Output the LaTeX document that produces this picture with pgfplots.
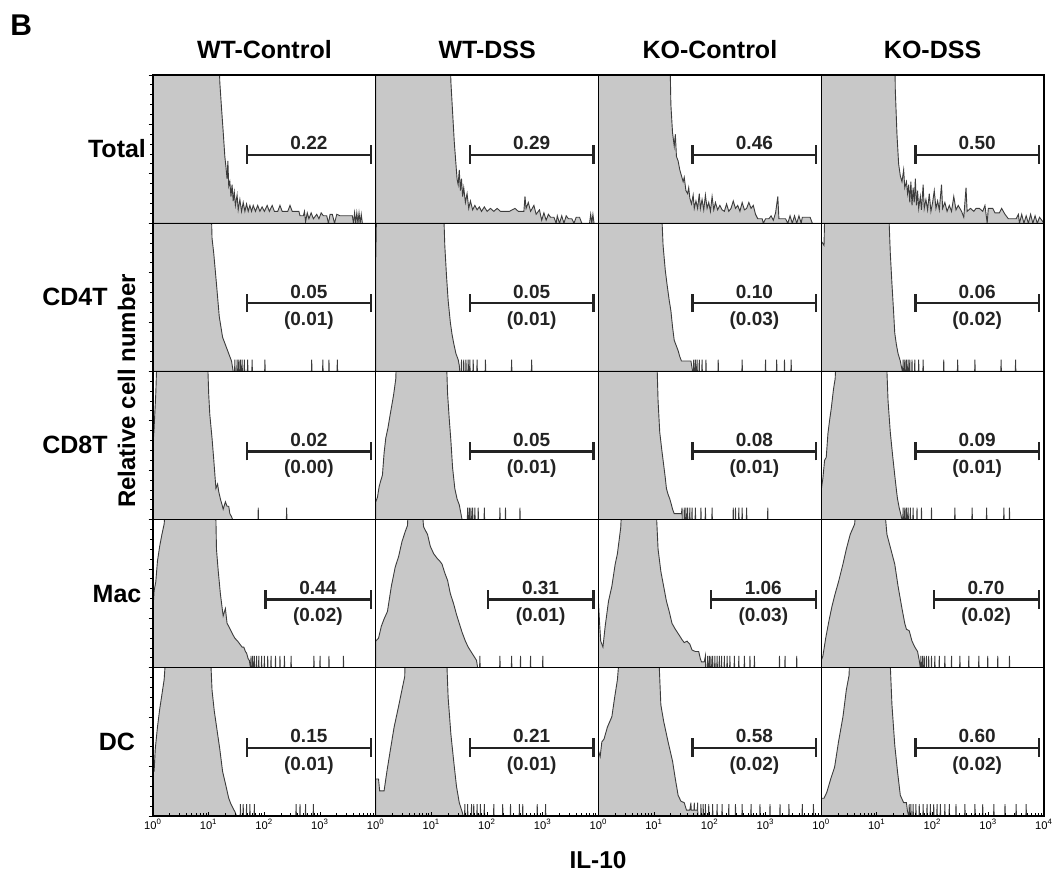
\documentclass[border=0pt]{standalone}
\usepackage{pgfplots}
\pgfplotsset{compat=1.18}
\usepgfplotslibrary{groupplots}
\usetikzlibrary{calc}
\usepackage{fontspec}
\setmainfont{Liberation Sans}
\definecolor{histfill}{RGB}{200,200,200}
\definecolor{histline}{RGB}{60,60,60}
\definecolor{gatecol}{RGB}{35,35,35}
\newcommand{\numfont}{\fontsize{9.5}{11}\selectfont\bfseries}
\newcommand{\gate}[5]{%
  \draw[gatecol, line width=1.2pt] (axis cs:#1,46) -- (axis cs:#2,46);
  \draw[gatecol, line width=1.2pt] (axis cs:#1,40) -- (axis cs:#1,52.5);
  \draw[gatecol, line width=1.2pt] (axis cs:#2,40) -- (axis cs:#2,52.5);
  \node[gatecol, font=\numfont, anchor=base, inner sep=0pt] at (axis cs:#3,49.5) {#4};
  \node[gatecol, font=\numfont, anchor=base, inner sep=0pt] at (axis cs:#3,31) {#5};
}
\pgfplotsset{
  hist/.style={fill=histfill, draw=histline, line width=0.45pt},
  leftcol/.style={ytick={0,33.333,66.667,100},
     minor ytick={6.667,13.333,20,26.667,40,46.667,53.333,60,73.333,80,86.667,93.333},
     yticklabels={}, ytick align=outside, ytick pos=left},
  botrow/.style={xtick={0,1,2,3,4},
     minor xtick={0.301,0.477,0.602,0.699,0.778,0.845,0.903,0.954,
                  1.301,1.477,1.602,1.699,1.778,1.845,1.903,1.954,
                  2.301,2.477,2.602,2.699,2.778,2.845,2.903,2.954,
                  3.301,3.477,3.602,3.699,3.778,3.845,3.903,3.954},
     xtick align=inside, xtick pos=bottom,
     xticklabels={10\textsuperscript{0},10\textsuperscript{1},10\textsuperscript{2},10\textsuperscript{3},},
     xticklabel style={font=\fontsize{5.6}{6}\selectfont, inner sep=0.5pt, yshift=-1pt}},
  lastlabels/.style={xticklabels={10\textsuperscript{0},10\textsuperscript{1},10\textsuperscript{2},10\textsuperscript{3},10\textsuperscript{4}}},
}
\begin{document}
\begin{tikzpicture}
\begin{groupplot}[
  group style={group size=4 by 5, horizontal sep=0pt, vertical sep=0pt},
  width=111.375pt, height=74.1pt, scale only axis,
  xmin=0, xmax=4, ymin=0, ymax=100,
  xtick=\empty, ytick=\empty,
  axis on top,
  axis line style={line width=0.6pt},
  every tick/.style={black, line width=0.45pt},
  major tick length=2.2pt, minor tick length=1.4pt,
]
% ---------------- Row 1: Total ----------------
\nextgroupplot[leftcol]
\addplot[hist] coordinates {(0,120)(1.18,120)(1.20,95)(1.23,78)(1.26,62)(1.29,45)(1.31,38)(1.33,30)(1.345,42)(1.36,25)(1.38,28)(1.40,18)(1.42,26)(1.44,15)(1.46,21)(1.48,12)(1.51,19)(1.53,9)(1.56,16)(1.59,8)(1.62,14)(1.65,8)(1.68,13)(1.71,8)(1.74,12)(1.77,8)(1.80,12)(1.84,8)(1.88,12)(1.92,8)(1.96,11)(2.00,8)(2.05,12)(2.09,8)(2.14,12)(2.18,8)(2.24,8)(2.28,12)(2.32,8)(2.42,8)(2.46,12)(2.50,8)(2.62,8)(2.64,5)(2.70,5)(2.72,8)(2.74,1)(2.77,7)(2.80,3)(2.84,7)(2.88,3)(2.94,6)(2.98,3)(3.02,7)(3.06,5)(3.12,5)(3.15,0)(3.18,6)(3.22,6)(3.26,0)(3.30,6)(3.36,5)(3.58,5)(3.60,0)(3.62,7)(3.64,0)(3.66,7)(3.68,0)(3.70,7)(3.72,0)(3.74,6)(3.76,0)(4,0)} \closedcycle;
\gate{1.69}{3.91}{2.80}{0.22}{}
\nextgroupplot
\addplot[hist] coordinates {(0,120)(1.33,120)(1.35,95)(1.38,75)(1.41,55)(1.44,40)(1.46,30)(1.48,26)(1.50,36)(1.52,22)(1.54,30)(1.56,18)(1.58,24)(1.61,14)(1.64,20)(1.67,10)(1.70,15)(1.74,9)(1.78,12)(1.82,9)(1.86,11)(1.90,8)(1.95,11)(2.00,8)(2.06,10)(2.12,8)(2.18,10)(2.24,8)(2.40,8)(2.50,10)(2.56,8)(2.66,8)(2.68,18)(2.70,10)(2.74,14)(2.78,8)(2.84,12)(2.88,6)(2.94,9)(2.98,2)(3.02,7)(3.06,2)(3.10,6)(3.14,4)(3.20,4)(3.24,0)(3.26,5)(3.30,0)(3.34,5)(3.38,0)(3.42,5)(3.46,3)(3.52,3)(3.56,0)(3.60,4)(3.66,4)(3.70,0)(3.84,0)(3.86,6)(3.88,0)(3.90,6)(3.92,0)(4,0)} \closedcycle;
\gate{1.69}{3.91}{2.80}{0.29}{}
\nextgroupplot
\addplot[hist] coordinates {(0,120)(1.28,120)(1.30,80)(1.33,61)(1.36,52)(1.38,60)(1.40,45)(1.43,42)(1.46,36)(1.49,32)(1.52,28)(1.54,31)(1.57,22)(1.60,20)(1.62,24)(1.64,17)(1.67,13)(1.70,19)(1.72,10)(1.75,15)(1.78,10)(1.81,20)(1.83,10)(1.86,16)(1.89,9)(1.92,19)(1.95,10)(1.98,14)(2.01,8)(2.04,18)(2.07,9)(2.10,14)(2.14,9)(2.18,12)(2.22,9)(2.26,8)(2.30,13)(2.34,8)(2.38,10)(2.42,15)(2.46,10)(2.50,12)(2.54,8)(2.58,14)(2.62,9)(2.66,10)(2.70,14)(2.74,10)(2.78,12)(2.82,6)(2.86,3)(2.94,3)(2.96,0)(3.00,3)(3.06,3)(3.10,5)(3.14,2)(3.18,7)(3.22,18)(3.24,3)(3.30,3)(3.36,3)(3.40,0)(3.44,5)(3.48,0)(3.52,5)(3.56,0)(3.60,5)(3.64,0)(3.66,4)(3.80,4)(3.84,0)(4,0)} \closedcycle;
\gate{1.69}{3.91}{2.80}{0.46}{}
\nextgroupplot
\addplot[hist] coordinates {(0,120)(1.32,120)(1.33,90)(1.36,60)(1.39,40)(1.42,32)(1.45,28)(1.48,36)(1.50,24)(1.53,28)(1.55,20)(1.57,26)(1.59,14)(1.61,28)(1.63,12)(1.65,24)(1.67,14)(1.69,30)(1.71,12)(1.73,22)(1.75,10)(1.78,18)(1.80,9)(1.83,26)(1.85,10)(1.88,16)(1.91,9)(1.94,20)(1.97,8)(2.00,14)(2.03,22)(2.06,10)(2.09,15)(2.12,9)(2.16,26)(2.18,10)(2.22,14)(2.26,8)(2.30,12)(2.34,8)(2.38,18)(2.42,9)(2.46,12)(2.52,8)(2.56,4)(2.60,24)(2.62,8)(2.68,10)(2.74,8)(2.78,10)(2.84,10)(2.90,8)(2.94,12)(2.98,0)(3.00,10)(3.08,10)(3.12,7)(3.20,7)(3.24,10)(3.30,6)(3.36,3)(3.42,3)(3.50,3)(3.54,6)(3.56,0)(3.60,6)(3.64,0)(3.68,5)(3.72,0)(3.76,6)(3.80,0)(3.84,5)(3.88,0)(3.92,4)(4,0)} \closedcycle;
\gate{1.69}{3.91}{2.80}{0.50}{}
% ---------------- Row 2: CD4T ----------------
\nextgroupplot[leftcol]
\addplot[hist] coordinates {(0,120)(1.04,120)(1.06,90)(1.09,80)(1.14,59)(1.19,37)(1.25,23)(1.30,18)(1.34,14)(1.38,10)(1.41,7)(1.44,0)(1.465,0)(1.47,8)(1.475,0)(1.505,0)(1.51,8)(1.515,0)(1.535,0)(1.54,8)(1.545,0)(1.565,0)(1.57,8)(1.575,0)(1.595,0)(1.60,8)(1.605,0)(1.635,0)(1.64,8)(1.645,0)(1.695,0)(1.70,8)(1.705,0)(1.775,0)(1.78,8)(1.785,0)(2.005,0)(2.01,8)(2.015,0)(2.845,0)(2.85,8)(2.855,0)(3.045,0)(3.05,8)(3.055,0)(3.155,0)(3.16,8)(3.165,0)(3.305,0)(3.31,8)(3.315,0)(4,0)} \closedcycle;
\gate{1.69}{3.91}{2.80}{0.05}{(0.01)}
\nextgroupplot
\addplot[hist] coordinates {(0,75)(0.02,120)(1.21,120)(1.24,85)(1.27,65)(1.30,48)(1.34,33)(1.37,25)(1.40,19)(1.44,12)(1.48,8)(1.50,4)(1.51,0)(1.535,0)(1.54,8)(1.545,0)(1.575,0)(1.58,8)(1.585,0)(1.615,0)(1.62,8)(1.625,0)(1.655,0)(1.66,8)(1.665,0)(1.685,0)(1.69,8)(1.695,0)(1.745,0)(1.75,8)(1.755,0)(1.815,0)(1.82,8)(1.825,0)(1.965,0)(1.97,8)(1.975,0)(2.435,0)(2.44,8)(2.445,0)(2.795,0)(2.80,8)(2.805,0)(4,0)} \closedcycle;
\gate{1.69}{3.91}{2.80}{0.05}{(0.01)}
\nextgroupplot
\addplot[hist] coordinates {(0,120)(1.12,120)(1.16,85)(1.20,68)(1.23,59)(1.27,48)(1.30,41)(1.33,30)(1.36,21)(1.40,17)(1.43,14)(1.46,10)(1.49,7)(1.60,7)(1.66,7)(1.69,0)(1.705,0)(1.71,8)(1.715,0)(1.735,0)(1.74,8)(1.745,0)(1.765,0)(1.77,8)(1.775,0)(1.805,0)(1.81,8)(1.815,0)(1.855,0)(1.86,8)(1.865,0)(1.925,0)(1.93,8)(1.935,0)(2.145,0)(2.15,8)(2.155,0)(2.575,0)(2.58,8)(2.585,0)(2.995,0)(3.00,8)(3.005,0)(3.195,0)(3.20,8)(3.205,0)(3.335,0)(3.34,8)(3.345,0)(3.455,0)(3.46,8)(3.465,0)(4,0)} \closedcycle;
\gate{1.69}{3.91}{2.80}{0.10}{(0.03)}
\nextgroupplot
\addplot[hist] coordinates {(0,88)(0.05,85)(0.07,120)(1.20,120)(1.24,80)(1.27,59)(1.30,40)(1.32,26)(1.35,18)(1.38,12)(1.42,7)(1.44,3)(1.46,0)(1.465,0)(1.47,8)(1.475,0)(1.495,0)(1.50,8)(1.505,0)(1.525,0)(1.53,8)(1.535,0)(1.555,0)(1.56,8)(1.565,0)(1.585,0)(1.59,8)(1.595,0)(1.625,0)(1.63,8)(1.635,0)(1.675,0)(1.68,8)(1.685,0)(1.745,0)(1.75,8)(1.755,0)(1.825,0)(1.83,8)(1.835,0)(2.195,0)(2.20,8)(2.205,0)(2.445,0)(2.45,8)(2.455,0)(2.755,0)(2.76,8)(2.765,0)(3.225,0)(3.23,8)(3.235,0)(3.485,0)(3.49,8)(3.495,0)(4,0)} \closedcycle;
\gate{1.69}{3.91}{2.80}{0.06}{(0.02)}
% ---------------- Row 3: CD8T ----------------
\nextgroupplot[leftcol]
\addplot[hist] coordinates {(0,50)(0.02,62)(0.05,85)(0.08,120)(0.97,120)(1.00,85)(1.02,71)(1.06,55)(1.09,41)(1.13,21)(1.16,24)(1.18,19)(1.21,14)(1.24,10)(1.26,7)(1.30,12)(1.33,9)(1.36,9)(1.38,4)(1.41,2)(1.43,0)(1.885,0)(1.89,8)(1.895,0)(2.395,0)(2.40,8)(2.405,0)(4,0)} \closedcycle;
\gate{1.69}{3.91}{2.80}{0.02}{(0.00)}
\nextgroupplot
\addplot[hist] coordinates {(0,12)(0.03,15)(0.06,22)(0.08,25)(0.12,30)(0.15,45)(0.18,55)(0.22,62)(0.26,71)(0.32,84)(0.36,95)(0.38,120)(1.26,120)(1.29,85)(1.32,68)(1.35,53)(1.38,35)(1.42,21)(1.46,14)(1.50,10)(1.53,4)(1.55,0)(1.645,0)(1.65,8)(1.655,0)(1.675,0)(1.68,8)(1.685,0)(1.705,0)(1.71,8)(1.715,0)(1.735,0)(1.74,8)(1.745,0)(1.775,0)(1.78,8)(1.785,0)(1.835,0)(1.84,8)(1.845,0)(1.945,0)(1.95,8)(1.955,0)(2.225,0)(2.23,8)(2.235,0)(2.325,0)(2.33,8)(2.335,0)(2.585,0)(2.59,8)(2.595,0)(4,0)} \closedcycle;
\gate{1.69}{3.91}{2.80}{0.05}{(0.01)}
\nextgroupplot
\addplot[hist] coordinates {(0,120)(1.04,120)(1.07,80)(1.10,59)(1.14,46)(1.17,37)(1.20,28)(1.22,21)(1.25,17)(1.28,14)(1.31,10)(1.33,7)(1.36,4)(1.49,4)(1.50,8)(1.505,0)(1.535,0)(1.54,8)(1.545,0)(1.565,0)(1.57,8)(1.575,0)(1.595,0)(1.60,8)(1.605,0)(1.635,0)(1.64,8)(1.645,0)(1.675,0)(1.68,8)(1.685,0)(1.735,0)(1.74,8)(1.745,0)(1.835,0)(1.84,8)(1.845,0)(1.915,0)(1.92,8)(1.925,0)(2.035,0)(2.04,8)(2.045,0)(2.415,0)(2.42,8)(2.425,0)(2.455,0)(2.46,8)(2.465,0)(2.515,0)(2.52,8)(2.525,0)(2.575,0)(2.58,8)(2.585,0)(2.655,0)(2.66,8)(2.665,0)(3.035,0)(3.04,8)(3.045,0)(4,0)} \closedcycle;
\gate{1.69}{3.91}{2.80}{0.08}{(0.01)}
\nextgroupplot
\addplot[hist] coordinates {(0,20)(0.03,28)(0.06,40)(0.09,42)(0.12,58)(0.15,67)(0.18,75)(0.22,88)(0.25,95)(0.28,120)(1.16,120)(1.20,80)(1.24,59)(1.28,44)(1.32,30)(1.35,20)(1.37,14)(1.40,8)(1.42,5)(1.45,0)(1.465,0)(1.47,8)(1.475,0)(1.495,0)(1.50,8)(1.505,0)(1.525,0)(1.53,8)(1.535,0)(1.555,0)(1.56,8)(1.565,0)(1.595,0)(1.60,8)(1.605,0)(1.645,0)(1.65,8)(1.655,0)(1.715,0)(1.72,8)(1.725,0)(1.795,0)(1.80,8)(1.805,0)(1.975,0)(1.98,8)(1.985,0)(2.395,0)(2.40,8)(2.405,0)(2.705,0)(2.71,8)(2.715,0)(2.965,0)(2.97,8)(2.975,0)(3.275,0)(3.28,8)(3.285,0)(3.375,0)(3.38,8)(3.385,0)(4,0)} \closedcycle;
\gate{1.69}{3.91}{2.80}{0.09}{(0.01)}
% ---------------- Row 4: Mac ----------------
\nextgroupplot[leftcol]
\addplot[hist] coordinates {(0,40)(0.02,52)(0.05,58)(0.08,72)(0.12,82)(0.16,90)(0.20,97)(0.25,120)(1.12,120)(1.14,80)(1.17,66)(1.21,50)(1.26,35)(1.30,40)(1.33,30)(1.36,28)(1.40,25)(1.44,22)(1.47,20)(1.52,18)(1.56,16)(1.60,14)(1.63,14)(1.66,11)(1.68,10)(1.71,6)(1.73,5)(1.75,0)(1.755,0)(1.76,8)(1.765,0)(1.785,0)(1.79,8)(1.795,0)(1.815,0)(1.82,8)(1.825,0)(1.855,0)(1.86,8)(1.865,0)(1.895,0)(1.90,8)(1.905,0)(1.945,0)(1.95,8)(1.955,0)(1.995,0)(2.00,8)(2.005,0)(2.055,0)(2.06,8)(2.065,0)(2.115,0)(2.12,8)(2.125,0)(2.195,0)(2.20,8)(2.205,0)(2.275,0)(2.28,8)(2.285,0)(2.355,0)(2.36,8)(2.365,0)(2.475,0)(2.48,8)(2.485,0)(2.885,0)(2.89,8)(2.895,0)(2.995,0)(3.00,8)(3.005,0)(3.155,0)(3.16,8)(3.165,0)(3.415,0)(3.42,8)(3.425,0)(4,0)} \closedcycle;
\gate{2.02}{3.91}{2.96}{0.44}{(0.02)}
\nextgroupplot
\addplot[hist] coordinates {(0,18)(0.05,20)(0.10,28)(0.15,33)(0.21,38)(0.28,55)(0.35,68)(0.41,75)(0.47,85)(0.53,92)(0.57,96)(0.60,120)(0.80,120)(0.86,95)(0.93,90)(0.98,82)(1.04,77)(1.10,74)(1.15,72)(1.19,70)(1.24,64)(1.29,59)(1.34,50)(1.40,43)(1.45,36)(1.50,30)(1.55,24)(1.61,18)(1.66,14)(1.71,11)(1.76,8)(1.81,5)(1.83,0)(1.865,0)(1.87,8)(1.875,0)(2.225,0)(2.23,8)(2.235,0)(2.435,0)(2.44,8)(2.445,0)(2.595,0)(2.60,8)(2.605,0)(2.775,0)(2.78,8)(2.785,0)(2.995,0)(3.00,8)(3.005,0)(4,0)} \closedcycle;
\gate{2.02}{3.91}{2.96}{0.31}{(0.01)}
\nextgroupplot
\addplot[hist] coordinates {(0,44)(0.02,30)(0.04,18)(0.08,14)(0.12,28)(0.18,45)(0.24,55)(0.30,70)(0.34,77)(0.40,95)(0.43,120)(1.02,120)(1.07,80)(1.12,65)(1.17,55)(1.22,45)(1.27,38)(1.32,30)(1.38,26)(1.45,22)(1.50,19)(1.54,17)(1.59,18)(1.64,16)(1.68,12)(1.74,11)(1.80,11)(1.83,6)(1.85,4)(1.90,4)(1.92,8)(1.925,0)(1.955,0)(1.96,8)(1.965,0)(1.985,0)(1.99,8)(1.995,0)(2.015,0)(2.02,8)(2.025,0)(2.045,0)(2.05,8)(2.055,0)(2.085,0)(2.09,8)(2.095,0)(2.125,0)(2.13,8)(2.135,0)(2.165,0)(2.17,8)(2.175,0)(2.205,0)(2.21,8)(2.215,0)(2.255,0)(2.26,8)(2.265,0)(2.305,0)(2.31,8)(2.315,0)(2.355,0)(2.36,8)(2.365,0)(2.435,0)(2.44,8)(2.445,0)(2.515,0)(2.52,8)(2.525,0)(2.615,0)(2.62,8)(2.625,0)(2.715,0)(2.72,8)(2.725,0)(2.795,0)(2.80,8)(2.805,0)(3.245,0)(3.25,8)(3.255,0)(3.345,0)(3.35,8)(3.355,0)(3.555,0)(3.56,8)(3.565,0)(4,0)} \closedcycle;
\gate{2.02}{3.91}{2.96}{1.06}{(0.03)}
\nextgroupplot
\addplot[hist] coordinates {(0,5)(0.03,8)(0.08,20)(0.14,32)(0.19,41)(0.25,50)(0.31,58)(0.39,70)(0.45,80)(0.52,90)(0.60,97)(0.65,120)(1.11,120)(1.18,90)(1.25,80)(1.32,70)(1.38,55)(1.45,40)(1.50,30)(1.53,26)(1.58,25)(1.63,18)(1.68,14)(1.73,11)(1.76,5)(1.78,0)(1.785,0)(1.79,8)(1.795,0)(1.815,0)(1.82,8)(1.825,0)(1.845,0)(1.85,8)(1.855,0)(1.885,0)(1.89,8)(1.895,0)(1.925,0)(1.93,8)(1.935,0)(1.975,0)(1.98,8)(1.985,0)(2.035,0)(2.04,8)(2.045,0)(2.115,0)(2.12,8)(2.125,0)(2.215,0)(2.22,8)(2.225,0)(2.335,0)(2.34,8)(2.345,0)(2.485,0)(2.49,8)(2.495,0)(2.645,0)(2.65,8)(2.655,0)(2.825,0)(2.83,8)(2.835,0)(2.985,0)(2.99,8)(2.995,0)(3.165,0)(3.17,8)(3.175,0)(3.375,0)(3.38,8)(3.385,0)(4,0)} \closedcycle;
\gate{2.02}{3.91}{2.96}{0.70}{(0.02)}
% ---------------- Row 5: DC ----------------
\nextgroupplot[leftcol,botrow]
\addplot[hist] coordinates {(0,37)(0.02,30)(0.04,45)(0.08,60)(0.12,72)(0.16,82)(0.20,92)(0.25,120)(1.02,120)(1.06,85)(1.10,71)(1.15,58)(1.20,45)(1.25,30)(1.30,22)(1.36,12)(1.40,8)(1.44,5)(1.47,3)(1.50,0)(1.565,0)(1.57,8)(1.575,0)(1.615,0)(1.62,8)(1.625,0)(1.675,0)(1.68,8)(1.685,0)(1.735,0)(1.74,8)(1.745,0)(1.815,0)(1.82,8)(1.825,0)(2.565,0)(2.57,8)(2.575,0)(2.635,0)(2.64,8)(2.645,0)(2.735,0)(2.74,8)(2.745,0)(2.875,0)(2.88,8)(2.885,0)(4,0)} \closedcycle;
\gate{1.69}{3.91}{2.80}{0.15}{(0.01)}
\nextgroupplot[botrow]
\addplot[hist] coordinates {(0,25)(0.05,25)(0.07,17)(0.15,17)(0.20,30)(0.26,44)(0.33,60)(0.41,74)(0.47,85)(0.52,94)(0.54,120)(1.26,120)(1.30,80)(1.35,55)(1.40,37)(1.45,20)(1.50,9)(1.55,3)(1.57,0)(1.595,0)(1.60,8)(1.605,0)(1.645,0)(1.65,8)(1.655,0)(1.715,0)(1.72,8)(1.725,0)(1.755,0)(1.76,8)(1.765,0)(1.815,0)(1.82,8)(1.825,0)(1.875,0)(1.88,8)(1.885,0)(1.945,0)(1.95,8)(1.955,0)(2.115,0)(2.12,8)(2.125,0)(2.275,0)(2.28,8)(2.285,0)(2.415,0)(2.42,8)(2.425,0)(2.575,0)(2.58,8)(2.585,0)(2.635,0)(2.64,8)(2.645,0)(2.895,0)(2.90,8)(2.905,0)(3.045,0)(3.05,8)(3.055,0)(4,0)} \closedcycle;
\gate{1.69}{3.91}{2.80}{0.21}{(0.01)}
\nextgroupplot[botrow]
\addplot[hist] coordinates {(0,44)(0.03,40)(0.06,50)(0.10,52)(0.16,60)(0.24,67)(0.29,80)(0.34,92)(0.40,120)(1.07,120)(1.12,75)(1.17,64)(1.25,50)(1.33,37)(1.38,25)(1.43,14)(1.48,10)(1.54,9)(1.58,4)(1.64,4)(1.66,9)(1.665,4)(1.715,4)(1.72,9)(1.725,4)(1.775,4)(1.78,9)(1.785,0)(1.835,0)(1.84,8)(1.845,0)(1.875,0)(1.88,8)(1.885,0)(1.915,0)(1.92,8)(1.925,0)(1.975,0)(1.98,8)(1.985,0)(2.045,0)(2.05,8)(2.055,0)(2.125,0)(2.13,8)(2.135,0)(2.215,0)(2.22,8)(2.225,0)(2.335,0)(2.34,8)(2.345,0)(2.455,0)(2.46,8)(2.465,0)(2.575,0)(2.58,8)(2.585,0)(2.735,0)(2.74,8)(2.745,0)(2.895,0)(2.90,8)(2.905,0)(3.075,0)(3.08,8)(3.085,0)(3.255,0)(3.26,8)(3.265,0)(3.415,0)(3.42,8)(3.425,0)(3.655,0)(3.66,8)(3.665,0)(3.855,0)(3.86,8)(3.865,0)(4,0)} \closedcycle;
\gate{1.69}{3.91}{2.80}{0.58}{(0.02)}
\nextgroupplot[botrow,lastlabels]
\addplot[hist] coordinates {(0,12)(0.05,12)(0.10,16)(0.17,25)(0.24,33)(0.31,50)(0.39,67)(0.45,85)(0.50,95)(0.52,120)(1.22,120)(1.27,75)(1.32,48)(1.37,30)(1.42,14)(1.48,9)(1.53,9)(1.55,3)(1.57,0)(1.575,0)(1.58,8)(1.585,0)(1.605,0)(1.61,8)(1.615,0)(1.645,0)(1.65,8)(1.655,0)(1.695,0)(1.70,8)(1.705,0)(1.755,0)(1.76,8)(1.765,0)(1.825,0)(1.83,8)(1.835,0)(1.895,0)(1.90,8)(1.905,0)(1.955,0)(1.96,8)(1.965,0)(2.015,0)(2.02,8)(2.025,0)(2.075,0)(2.08,8)(2.085,0)(2.135,0)(2.14,8)(2.145,0)(2.215,0)(2.22,8)(2.225,0)(2.295,0)(2.30,8)(2.305,0)(2.415,0)(2.42,8)(2.425,0)(2.575,0)(2.58,8)(2.585,0)(2.755,0)(2.76,8)(2.765,0)(2.895,0)(2.90,8)(2.905,0)(3.095,0)(3.10,8)(3.105,0)(3.295,0)(3.30,8)(3.305,0)(3.495,0)(3.50,8)(3.505,0)(3.675,0)(3.68,8)(3.685,0)(4,0)} \closedcycle;
\gate{1.69}{3.91}{2.80}{0.60}{(0.02)}
\end{groupplot}
% ---------- labels ----------
\coordinate (NW) at (group c1r1.north west);
\node[anchor=base west, inner sep=0pt, font=\fontsize{15}{18}\selectfont\bfseries] at ($(NW)+(-71.5pt,20pt)$) {B};
\foreach \c/\t in {1/WT-Control,2/WT-DSS,3/KO-Control,4/KO-DSS}{
  \node[anchor=base, inner sep=0pt, font=\fontsize{12.5}{15}\selectfont\bfseries] at ($(group c\c r1.north)+(0,8.5pt)$) {\t};
}
\foreach \r/\t/\dx in {1/Total/-18pt,2/CD4T/-39pt,3/CD8T/-39pt,4/Mac/-18pt,5/DC/-18pt}{
  \node[anchor=base, inner sep=0pt, font=\fontsize{12.5}{15}\selectfont\bfseries] at ($(group c1r\r.west)+(\dx,-4.2pt)$) {\t};
}
\node[rotate=90, anchor=base, inner sep=0pt, font=\fontsize{12}{14}\selectfont\bfseries] at ($(NW)+(-9pt,-158pt)$) {Relative cell number};
\node[anchor=base, inner sep=0pt, font=\fontsize{12.2}{14}\selectfont\bfseries] at ($(NW)+(222.5pt,-396.5pt)$) {IL-10};
\pgfresetboundingbox
\path[use as bounding box] ($(NW)+(-76.5pt,37.5pt)$) rectangle ($(NW)+(450pt,-399pt)$);
\end{tikzpicture}
\end{document}
